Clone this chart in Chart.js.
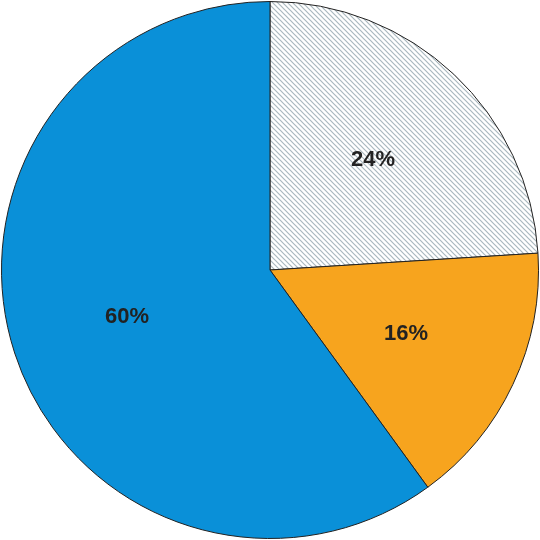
<!DOCTYPE html>
<html>
<head>
<meta charset="utf-8">
<script src="https://cdn.jsdelivr.net/npm/chart.js@4"></script>
<style>
  html, body { margin: 0; padding: 0; background: #fff; }
  #wrap { width: 540px; height: 540px; }
</style>
</head>
<body>
<div id="wrap"><canvas id="pie"></canvas></div>
<script>
// data
const labels = ["A", "B", "C"];
const values = [24, 16, 60];
const pctLabels = ["24%", "16%", "60%"];

// diagonal hatch for the first slice
function hatch() {
    const s = 5;
    const c = document.createElement("canvas");
    c.width = s; c.height = s;
    const g = c.getContext("2d");
    g.fillStyle = "#ffffff";
    g.fillRect(0, 0, s, s);
    g.strokeStyle = "#a9b8bf";
    g.lineWidth = 1.2;
    g.beginPath();
    g.moveTo(-1, -1); g.lineTo(s + 1, s + 1);
    g.moveTo(-1, s - 1); g.lineTo(1, s + 1);
    g.moveTo(s - 1, -1); g.lineTo(s + 1, 1);
    g.stroke();
    return g.createPattern(c, "repeat");
}

const ctx = document.querySelector("#pie").getContext("2d");
const colors = [hatch(), "#f7a41e", "#0a90d8"];

// percent text, a bit further out than the default center point
const pctPlugin = {
    id: "pct",
    afterDatasetsDraw(chart) {
        const c = chart.ctx;
        const meta = chart.getDatasetMeta(0);
        c.save();
        c.font = "bold 22px 'Liberation Sans', Arial, sans-serif";
        c.fillStyle = "#222";
        c.textAlign = "center";
        c.textBaseline = "middle";
        meta.data.forEach((arc, i) => {
            const p = arc.getProps(["x", "y", "startAngle", "endAngle", "outerRadius"], true);
            const a = (p.startAngle + p.endAngle) / 2;
            const r = p.outerRadius * 0.56;
            c.fillText(pctLabels[i], p.x + Math.cos(a) * r, p.y + Math.sin(a) * r);
        });
        c.restore();
    }
};

new Chart(ctx, {
    type: "pie",
    data: {
        labels: labels,
        datasets: [{
            data: values,
            backgroundColor: colors,
            borderColor: "#222",
            borderWidth: 1,
        }]
    },
    options: {
        responsive: true,
        maintainAspectRatio: false,
        animation: false,
        layout: { padding: 1 },
        plugins: {
            legend: { display: false },
            tooltip: { enabled: false },
        },
    },
    plugins: [pctPlugin],
});
</script>
</body>
</html>
